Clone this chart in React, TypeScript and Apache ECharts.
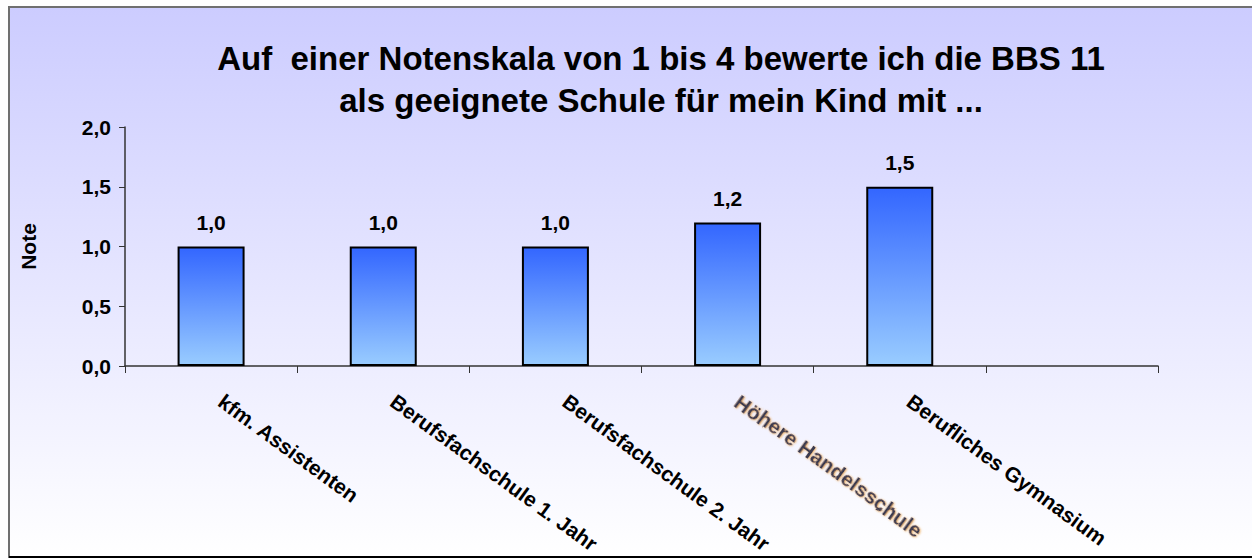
import React, { useEffect, useRef } from "react";
import * as echarts from "echarts";

const categories = [
  "kfm. Assistenten",
  "Berufsfachschule 1. Jahr",
  "Berufsfachschule 2. Jahr",
  "Höhere Handelsschule",
  "Berufliches Gymnasium",
  "",
];
const values: (number | null)[] = [1.0, 1.0, 1.0, 1.2, 1.5, null];
const titleLines = [
  "Auf  einer Notenskala von 1 bis 4 bewerte ich die BBS 11",
  "als geeignete Schule für mein Kind mit ...",
];
const yAxisName = "Note";
const blurredIndex = 3;

const FONT = "'Liberation Sans', Arial, sans-serif";

export default function App() {
  const ref = useRef<HTMLDivElement>(null);
  useEffect(() => {
    if (!ref.current) return;
    const chart = echarts.init(ref.current, null, { renderer: "svg" });
    chart.setOption({
      animation: false,
      textStyle: { fontFamily: FONT },
      graphic: [
        {
          type: "rect",
          z: -10,
          shape: { x: 9, y: 7, width: 1260, height: 550 },
          style: {
            fill: new echarts.graphic.LinearGradient(0, 0, 0, 1, [
              { offset: 0, color: "#ccccff" },
              { offset: 1, color: "#ffffff" },
            ]),
            stroke: "#707070",
            lineWidth: 2,
          },
        },
        {
          type: "line",
          z: -9,
          shape: { x1: 9, y1: 557, x2: 1252, y2: 557 },
          style: { stroke: "#000000", lineWidth: 2 },
        },
      ],
      title: {
        text: titleLines.join("\n"),
        left: 656,
        textAlign: "center",
        top: 32,
        textStyle: {
          fontFamily: FONT,
          fontSize: 33,
          fontWeight: "bold",
          lineHeight: 42,
          color: "#000000",
        },
      },
      grid: {
        left: 125,
        right: 94,
        top: 127,
        bottom: 192,
        containLabel: false,
        outerBoundsMode: "none",
      },
      xAxis: {
        type: "category",
        data: categories,
        boundaryGap: true,
        axisLine: { lineStyle: { color: "#333333", width: 1.5 } },
        axisTick: { show: true, alignWithLabel: false, length: 7, lineStyle: { color: "#333333" } },
        axisLabel: {
          interval: 0,
          rotate: -36,
          margin: 26,
          padding: [0, 0, 0, 12],
          fontFamily: FONT,
          fontSize: 21,
          fontWeight: "bold",
          color: "#000000",
          formatter: (v: string, i: number) => (i === blurredIndex ? `{blur|${v}}` : v),
          rich: {
            blur: {
              fontFamily: FONT,
              fontSize: 21,
              fontWeight: "bold",
              color: "#3a3a50",
              textShadowColor: "#f0b060",
              textShadowBlur: 2,
              textShadowOffsetX: 1,
            },
          },
        },
      },
      yAxis: {
        type: "value",
        min: 0,
        max: 2,
        interval: 0.5,
        name: yAxisName,
        nameLocation: "middle",
        nameRotate: 90,
        nameGap: 86,
        nameTextStyle: { fontFamily: FONT, fontSize: 21, fontWeight: "bold", color: "#000000" },
        axisLine: { show: true, lineStyle: { color: "#333333", width: 1.5 } },
        axisTick: { show: true, length: 6, lineStyle: { color: "#333333" } },
        splitLine: { show: false },
        axisLabel: {
          margin: 14,
          fontFamily: FONT,
          fontSize: 21,
          fontWeight: "bold",
          color: "#000000",
          formatter: (v: number) => v.toFixed(1).replace(".", ","),
        },
      },
      series: [
        {
          type: "bar",
          data: values,
          barWidth: 67,
          itemStyle: {
            color: new echarts.graphic.LinearGradient(0, 0, 0, 1, [
              { offset: 0, color: "#3366ff" },
              { offset: 0.5, color: "#6699ff" },
              { offset: 1, color: "#99ccff" },
            ]),
            borderColor: "#000000",
            borderWidth: 2,
          },
          label: {
            show: true,
            position: "top",
            distance: 14,
            fontFamily: FONT,
            fontSize: 21,
            fontWeight: "bold",
            color: "#000000",
            formatter: (p: any) => (p.value == null ? "" : Number(p.value).toFixed(1).replace(".", ",")),
          },
        },
      ],
    });
    return () => chart.dispose();
  }, []);
  return (
    <div
      ref={ref}
      style={{ position: "absolute", left: 0, top: 0, width: 1252, height: 558 }}
    />
  );
}
